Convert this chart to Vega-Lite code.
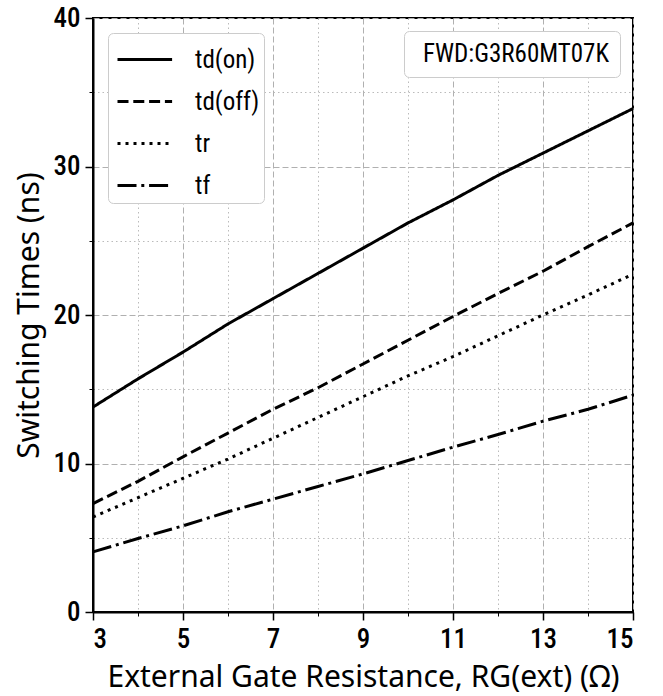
{
  "$schema": "https://vega.github.io/schema/vega-lite/v6.json",
  "width": 540,
  "height": 594,
  "autosize": {"type": "none"},
  "padding": {"left": 93, "top": 18, "right": 30, "bottom": 84},
  "background": "white",
  "config": {"view": {"stroke": "black", "strokeWidth": 2}},
  "data": {"values": [
    {"R": 3, "t": 13.8, "series": "td(on)"},
    {"R": 4, "t": 15.7, "series": "td(on)"},
    {"R": 5, "t": 17.5, "series": "td(on)"},
    {"R": 6, "t": 19.4, "series": "td(on)"},
    {"R": 7, "t": 21.1, "series": "td(on)"},
    {"R": 8, "t": 22.8, "series": "td(on)"},
    {"R": 9, "t": 24.5, "series": "td(on)"},
    {"R": 10, "t": 26.2, "series": "td(on)"},
    {"R": 11, "t": 27.75, "series": "td(on)"},
    {"R": 12, "t": 29.4, "series": "td(on)"},
    {"R": 13, "t": 30.9, "series": "td(on)"},
    {"R": 14, "t": 32.4, "series": "td(on)"},
    {"R": 15, "t": 33.9, "series": "td(on)"},
    {"R": 3, "t": 7.3, "series": "td(off)"},
    {"R": 4, "t": 8.8, "series": "td(off)"},
    {"R": 5, "t": 10.45, "series": "td(off)"},
    {"R": 6, "t": 12.05, "series": "td(off)"},
    {"R": 7, "t": 13.65, "series": "td(off)"},
    {"R": 8, "t": 15.1, "series": "td(off)"},
    {"R": 9, "t": 16.7, "series": "td(off)"},
    {"R": 10, "t": 18.3, "series": "td(off)"},
    {"R": 11, "t": 19.9, "series": "td(off)"},
    {"R": 12, "t": 21.45, "series": "td(off)"},
    {"R": 13, "t": 22.95, "series": "td(off)"},
    {"R": 14, "t": 24.6, "series": "td(off)"},
    {"R": 15, "t": 26.2, "series": "td(off)"},
    {"R": 3, "t": 6.4, "series": "tr"},
    {"R": 4, "t": 7.7, "series": "tr"},
    {"R": 5, "t": 9.0, "series": "tr"},
    {"R": 6, "t": 10.3, "series": "tr"},
    {"R": 7, "t": 11.7, "series": "tr"},
    {"R": 8, "t": 13.1, "series": "tr"},
    {"R": 9, "t": 14.5, "series": "tr"},
    {"R": 10, "t": 15.9, "series": "tr"},
    {"R": 11, "t": 17.2, "series": "tr"},
    {"R": 12, "t": 18.6, "series": "tr"},
    {"R": 13, "t": 20.0, "series": "tr"},
    {"R": 14, "t": 21.35, "series": "tr"},
    {"R": 15, "t": 22.75, "series": "tr"},
    {"R": 3, "t": 4.05, "series": "tf"},
    {"R": 4, "t": 4.95, "series": "tf"},
    {"R": 5, "t": 5.8, "series": "tf"},
    {"R": 6, "t": 6.75, "series": "tf"},
    {"R": 7, "t": 7.6, "series": "tf"},
    {"R": 8, "t": 8.45, "series": "tf"},
    {"R": 9, "t": 9.3, "series": "tf"},
    {"R": 10, "t": 10.2, "series": "tf"},
    {"R": 11, "t": 11.1, "series": "tf"},
    {"R": 12, "t": 11.95, "series": "tf"},
    {"R": 13, "t": 12.85, "series": "tf"},
    {"R": 14, "t": 13.65, "series": "tf"},
    {"R": 15, "t": 14.6, "series": "tf"}
  ]},
  "layer": [
    {
      "mark": {"type": "line", "opacity": 0},
      "encoding": {
        "x": {"field": "R", "type": "quantitative", "scale": {"domain": [3, 15], "nice": false, "zero": false},
          "axis": {"orient": "bottom", "values": [4, 6, 8, 10, 12, 14], "labels": false, "title": null, "domain": false,
            "tickSize": 4, "tickColor": "black", "tickWidth": 1,
            "grid": true, "gridDash": [1.5, 3], "gridColor": "#bbbbbb", "gridWidth": 1}},
        "y": {"field": "t", "type": "quantitative", "scale": {"domain": [0, 40], "nice": false},
          "axis": {"orient": "left", "values": [5, 15, 25, 35], "labels": false, "title": null, "domain": false,
            "tickSize": 4, "tickColor": "black", "tickWidth": 1,
            "grid": true, "gridDash": [1.5, 3], "gridColor": "#bbbbbb", "gridWidth": 1}},
        "detail": {"field": "series"}
      }
    },
    {
      "mark": {"type": "line", "color": "black", "strokeWidth": 3, "strokeCap": "butt"},
      "encoding": {
        "x": {"field": "R", "type": "quantitative", "scale": {"domain": [3, 15], "nice": false, "zero": false},
          "axis": {"orient": "bottom", "values": [3, 5, 7, 9, 11, 13, 15],
            "title": "External Gate Resistance, RG(ext) (Ω)",
            "titleFont": "Noto Sans", "titleFontSize": 30, "titleFontWeight": "normal", "titleColor": "black", "titlePadding": 10,
            "labelFont": "Roboto Condensed, Liberation Sans Narrow, DejaVu Sans Condensed, Roboto", "labelFontSize": 27, "labelFontWeight": 500, "labelColor": "black", "labelPadding": 6,
            "domainColor": "black", "domainWidth": 2,
            "tickSize": 8, "tickColor": "black", "tickWidth": 1.5,
            "grid": true, "gridDash": [6, 3], "gridColor": "#b0b0b0", "gridWidth": 1}},
        "y": {"field": "t", "type": "quantitative", "scale": {"domain": [0, 40], "nice": false},
          "axis": {"orient": "left", "values": [0, 10, 20, 30, 40],
            "title": "Switching Times (ns)",
            "titleFont": "Noto Sans", "titleFontSize": 30, "titleFontWeight": "normal", "titleColor": "black", "titlePadding": 9,
            "labelFont": "Roboto Condensed, Liberation Sans Narrow, DejaVu Sans Condensed, Roboto", "labelFontSize": 27, "labelFontWeight": 500, "labelColor": "black", "labelPadding": 5,
            "domainColor": "black", "domainWidth": 2,
            "tickSize": 8, "tickColor": "black", "tickWidth": 1.5,
            "grid": true, "gridDash": [6, 3], "gridColor": "#b0b0b0", "gridWidth": 1}},
        "strokeDash": {"field": "series", "type": "nominal",
          "scale": {"domain": ["td(on)", "td(off)", "tr", "tf"], "range": [[1, 0], [11, 4.8], [3, 5], [19, 4.8, 3, 4.8]]},
          "legend": {"orient": "top-left", "offset": 15, "title": null,
            "symbolType": "M-1,0H1.6", "symbolSize": 1764, "symbolStrokeWidth": 3, "symbolStrokeColor": "black", "symbolOffset": 4,
            "labelFont": "Roboto Condensed, Roboto", "labelFontSize": 25, "labelColor": "black", "labelOffset": 34,
            "rowPadding": 6, "padding": 4, "strokeColor": "#cccccc", "fillColor": "white", "cornerRadius": 5}}
      }
    },
    {
      "data": {"values": [{"note": "FWD:G3R60MT07K"}]},
      "mark": {"type": "point", "opacity": 0},
      "encoding": {
        "shape": {"field": "note", "type": "nominal",
          "legend": {"orient": "top-right", "offset": 13, "title": null,
            "symbolSize": 0, "symbolOpacity": 0, "symbolStrokeWidth": 0, "labelOffset": -16, "labelLimit": 400,
            "labelFont": "Roboto Condensed, Liberation Sans Narrow, DejaVu Sans Condensed, Roboto", "labelFontSize": 25, "labelColor": "black",
            "padding": 10, "strokeColor": "#cccccc", "fillColor": "white", "cornerRadius": 5}}
      }
    }
  ],
  "resolve": {"axis": {"x": "independent", "y": "independent"}}
}
